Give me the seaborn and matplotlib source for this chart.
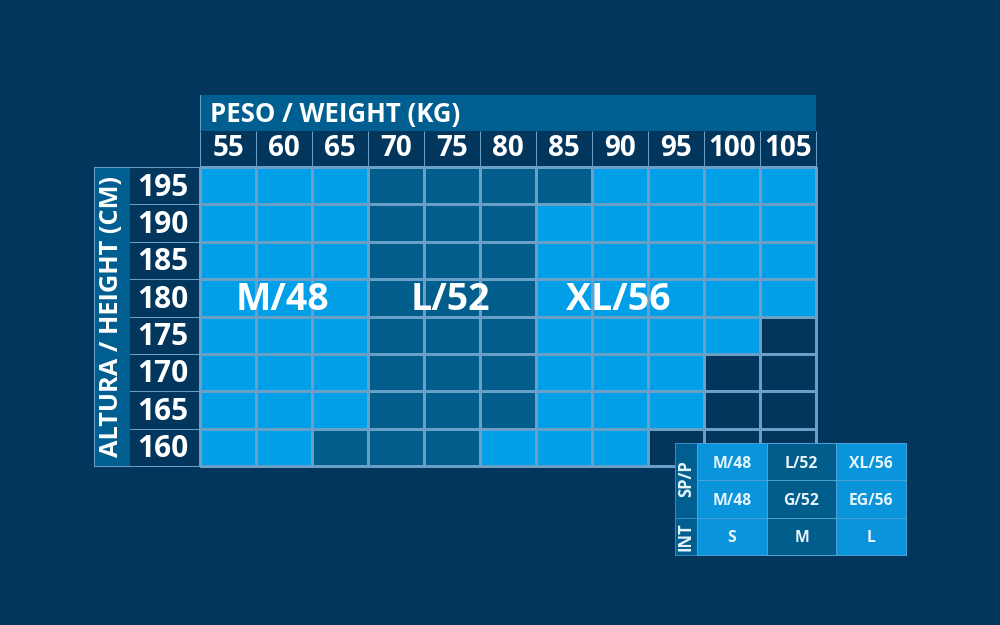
import numpy as np
import seaborn as sns
import matplotlib.pyplot as plt
from matplotlib.colors import ListedColormap

# colours
BG = '#03365c'
BRIGHT = '#009fe8'
MID = '#005d8c'
BAND = '#005f90'
GRID = '#6a9fc8'
INSET_BRIGHT = '#0a94dc'
INSET_GRID = '#4e9fd6'
LW = 0.75

weights = ['55', '60', '65', '70', '75', '80', '85', '90', '95', '100', '105']
heights = ['195', '190', '185', '180', '175', '170', '165', '160']

# 0 = no size, 1 = M/48, 2 = L/52, 3 = XL/56
sizes_195 = [1, 1, 1, 2, 2, 2, 2, 3, 3, 3, 3]
sizes_190 = [1, 1, 1, 2, 2, 2, 3, 3, 3, 3, 3]
sizes_185 = [1, 1, 1, 2, 2, 2, 3, 3, 3, 3, 3]
sizes_180 = [1, 1, 1, 2, 2, 2, 3, 3, 3, 3, 3]
sizes_175 = [1, 1, 1, 2, 2, 2, 3, 3, 3, 3, 0]
sizes_170 = [1, 1, 1, 2, 2, 2, 3, 3, 3, 0, 0]
sizes_165 = [1, 1, 1, 2, 2, 2, 3, 3, 3, 0, 0]
sizes_160 = [1, 1, 2, 2, 2, 3, 3, 3, 0, 0, 0]
size_names = ['M/48', 'L/52', 'XL/56']

legend_sp = ['M/48', 'L/52', 'XL/56']
legend_p = ['M/48', 'G/52', 'EG/56']
legend_int = ['S', 'M', 'L']

sns.set_theme(style='white')
plt.rcParams['font.family'] = ['Open Sans', 'DejaVu Sans']
plt.rcParams['font.weight'] = 'bold'

fig = plt.figure(figsize=(10, 6.25), dpi=100, facecolor=BG)


def px_axes(x0, y0, x1, y1, color='none', zorder=1):
    # pixel box measured from the top left of the image
    ax = fig.add_axes([x0 / 1000, 1 - y1 / 625, (x1 - x0) / 1000, (y1 - y0) / 625], zorder=zorder)
    ax.set_facecolor(color)
    ax.set_xticks([])
    ax.set_yticks([])
    for s in ax.spines.values():
        s.set_visible(False)
    return ax


def grid_map(ax, values, cmap, labels=None, size=20, lw=LW, edge=GRID, text_color='white'):
    annot = labels if labels is not None else False
    sns.heatmap(values, ax=ax, cmap=ListedColormap(cmap), vmin=-0.5, vmax=len(cmap) - 0.5, cbar=False,
                linewidths=lw, linecolor=edge, annot=annot, fmt='',
                annot_kws={'size': size, 'color': text_color, 'weight': 'bold'},
                xticklabels=False, yticklabels=False)
    ax.collections[0].set_clip_on(False)
    ax.set_xlabel('')
    ax.set_ylabel('')


def nudge(ax, dy):
    # move the annotations down a little, the y axis of a heatmap is inverted
    for t in ax.texts:
        x, y = t.get_position()
        t.set_position((x, y + dy))


# main grid
main = np.array([sizes_195, sizes_190, sizes_185, sizes_180, sizes_175, sizes_170, sizes_165, sizes_160])
ax = px_axes(200, 167, 816, 466, zorder=3)
grid_map(ax, main, [BG, BRIGHT, MID, BRIGHT])
for code, name in enumerate(size_names, start=1):
    col = np.where(main[3] == code)[0]
    # label sits over the first three columns of each size block in the 180 row
    ax.text(col[:3].mean() + 0.47, 3.55, name, color='white', fontsize=27, ha='center', va='center')

# weight header, separators only
ax_w = px_axes(200, 131, 816, 167, zorder=2)
grid_map(ax_w, np.zeros((1, len(weights))), [BG], np.array([weights]), size=20, lw=0)
ax_w.vlines(range(len(weights) + 1), 0, 1, color=GRID, lw=LW, clip_on=False)

# height header, separators only
ax_h = px_axes(126, 167, 200, 466, zorder=2)
grid_map(ax_h, np.zeros((len(heights), 1)), [BG], np.array([[h] for h in heights]), size=21.5, lw=0)
ax_h.hlines(range(len(heights) + 1), 0, 1, color=GRID, lw=LW, clip_on=False)
nudge(ax_h, 0.05)

# title bands
ax_t = px_axes(200, 95, 816, 131, BAND)
ax_t.text(10 / 616, 0.46, 'PESO / WEIGHT (KG)', transform=ax_t.transAxes, color='white', fontsize=18.5, va='center')
ax_t.spines['left'].set_visible(True)
ax_t.spines['left'].set_color(GRID)
ax_t.spines['left'].set_linewidth(LW)

ax_l = px_axes(94, 167, 130, 466, BAND, zorder=2.5)
ax_l.text(0.5, 0.5, 'ALTURA / HEIGHT (CM)', transform=ax_l.transAxes, color='white', fontsize=18.3,
          rotation=90, ha='center', va='center')
for side in ('left', 'top', 'bottom'):
    ax_l.spines[side].set_visible(True)
    ax_l.spines[side].set_color(GRID)
    ax_l.spines[side].set_linewidth(LW)

# legend table
legend_vals = np.array([[0, 1, 0], [0, 1, 0], [0, 1, 0]])
legend_text = np.array([legend_sp, legend_p, legend_int])
ax_i = px_axes(697, 443, 906, 555, zorder=6)
grid_map(ax_i, legend_vals, [INSET_BRIGHT, MID], legend_text, size=11.3, lw=0.55, edge=INSET_GRID, text_color='#e6f4fb')
nudge(ax_i, 0.05)

ax_sp = px_axes(675, 443, 697, 518, BAND, zorder=5)
ax_sp.text(0.5, 0.52, 'SP/P', transform=ax_sp.transAxes, color='#e6f4fb', fontsize=12, rotation=90, ha='center', va='center')
ax_int = px_axes(675, 518, 697, 555, BAND, zorder=5)
ax_int.text(0.5, 0.5, 'INT', transform=ax_int.transAxes, color='#e6f4fb', fontsize=12, rotation=90, ha='center', va='center')
for a in (ax_sp, ax_int):
    for s in a.spines.values():
        s.set_visible(True)
        s.set_color(INSET_GRID)
        s.set_linewidth(0.5)

fig.savefig('out.png', dpi=100, facecolor=BG)
